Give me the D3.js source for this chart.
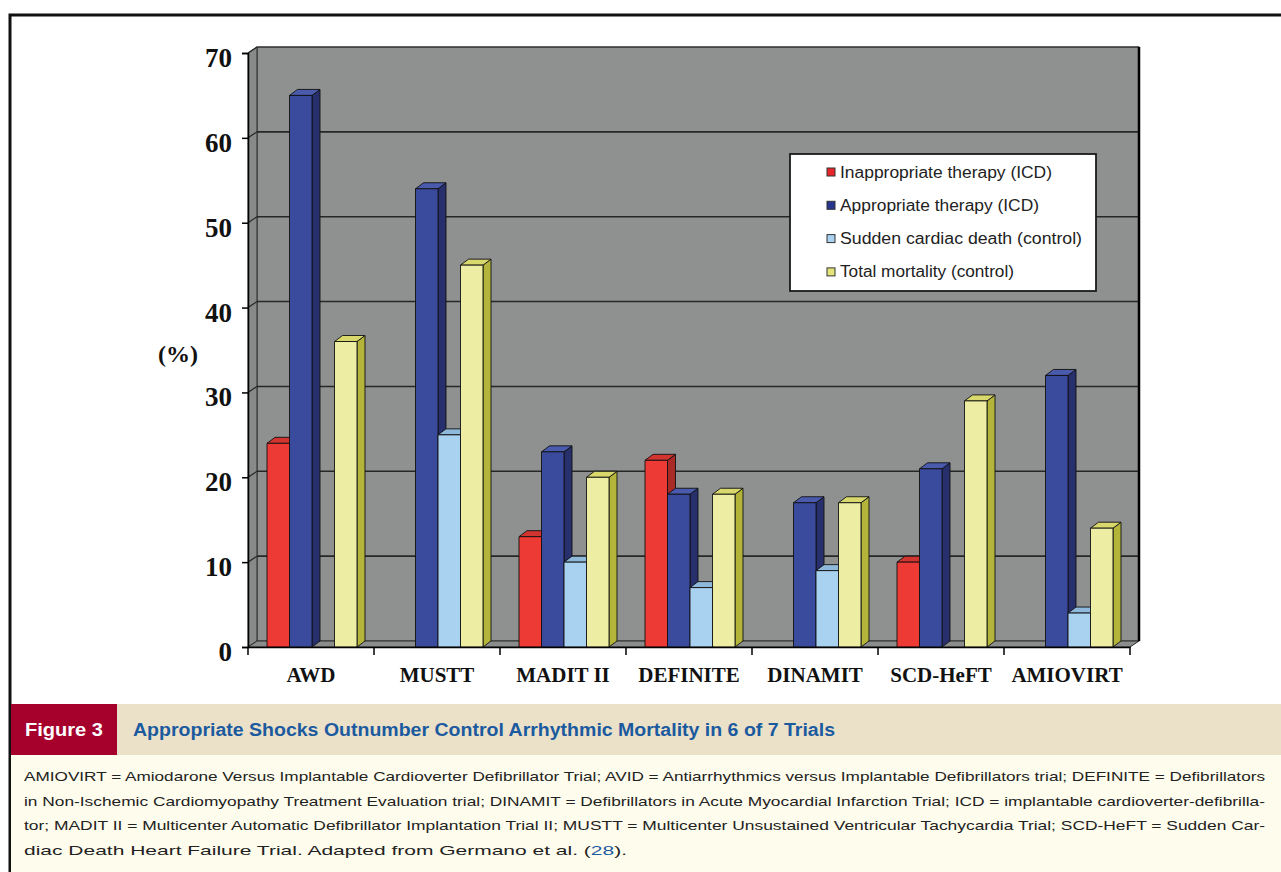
<!DOCTYPE html>
<html>
<head>
<meta charset="utf-8">
<script src="https://cdn.jsdelivr.net/npm/d3@7/dist/d3.min.js"></script>
<style>
  html, body { margin: 0; padding: 0; background: #ffffff; }
  svg { display: block; }
</style>
</head>
<body>
<svg id="fig" width="1281" height="872"></svg>
<script>
// ---- data -------------------------------------------------------------
const categories = ["AWD", "MUSTT", "MADIT II", "DEFINITE", "DINAMIT", "SCD-HeFT", "AMIOVIRT"];
const seriesNames = [
  "Inappropriate therapy (ICD)",
  "Appropriate therapy (ICD)",
  "Sudden cardiac death  (control)",
  "Total mortality (control)"
];
// null = not reported for that trial
const inappropriateTherapy = [24, null, 13, 22, null, 10, null];
const appropriateTherapy   = [65, 54, 23, 18, 17, 21, 32];
const suddenCardiacDeath   = [null, 25, 10, 7, 9, null, 4];
const totalMortality       = [36, 45, 20, 18, 17, 29, 14];
const yTicks = [0, 10, 20, 30, 40, 50, 60, 70];

const seriesValues = [inappropriateTherapy, appropriateTherapy, suddenCardiacDeath, totalMortality];

// face colours per series: front, top, side, legend key
const palette = [
  { front: "#ee3a35", top: "#d2352f", side: "#a92a26", key: "#e8262a" },
  { front: "#3a4a9d", top: "#4a5aad", side: "#27306c", key: "#27358f" },
  { front: "#a9d1f0", top: "#8fb9da", side: "#7ba2c4", key: "#a9d1f0" },
  { front: "#ededa3", top: "#d8d86c", side: "#b4b43a", key: "#e4e47a" }
];
// rendered widths of the legend labels
const legendWidths = [212, 199, 242, 174];

const svg = d3.select("#fig");

// ---- page frame -------------------------------------------------------
svg.append("rect").attr("x", 0).attr("y", 0).attr("width", 1281).attr("height", 872).attr("fill", "#ffffff");
svg.append("path")
  .attr("d", "M10,900 L10,15 L1290,15")
  .attr("fill", "none").attr("stroke", "#111").attr("stroke-width", 3);

// ---- 3D chart geometry --------------------------------------------------
const depth = { dx: 9, dy: -6 };      // wall depth offset
const barDepth = { dx: 8, dy: -6 };   // bar depth offset
const y = d3.scaleLinear().domain([0, 70]).range([647, 53]);
const x = d3.scaleBand().domain(categories).range([248, 1130]);
const xs = d3.scaleBand().domain(d3.range(seriesNames.length)).range([19, 19 + 90]);

const x0 = x.range()[0], x1 = x.range()[1];
const yTop = y(70), yBase = y(0);
const wallFill = "#8e9190";

const chart = svg.append("g");

// back wall
chart.append("rect")
  .attr("x", x0 + depth.dx).attr("y", yTop + depth.dy)
  .attr("width", x1 - x0).attr("height", yBase - yTop)
  .attr("fill", wallFill).attr("stroke", "#3a3d3c").attr("stroke-width", 1);

// left side wall
chart.append("path")
  .attr("d", `M${x0},${yBase} L${x0},${yTop} L${x0 + depth.dx},${yTop + depth.dy} L${x0 + depth.dx},${yBase + depth.dy} Z`)
  .attr("fill", "#878a89").attr("stroke", "#2a2a2a").attr("stroke-width", 1);

// floor
chart.append("path")
  .attr("d", `M${x0},${yBase} L${x1},${yBase} L${x1 + depth.dx},${yBase + depth.dy} L${x0 + depth.dx},${yBase + depth.dy} Z`)
  .attr("fill", "#8a8d8c").attr("stroke", "#2a2a2a").attr("stroke-width", 1);

// gridlines on back wall and side wall
const grid = chart.append("g");
yTicks.filter(t => t > 0).forEach(t => {
  grid.append("line")
    .attr("x1", x0 + depth.dx).attr("x2", x1 + depth.dx)
    .attr("y1", y(t) + depth.dy).attr("y2", y(t) + depth.dy)
    .attr("stroke", "#262827").attr("stroke-width", t === 70 ? 1 : 1.6);
  grid.append("line")
    .attr("x1", x0).attr("x2", x0 + depth.dx)
    .attr("y1", y(t)).attr("y2", y(t) + depth.dy)
    .attr("stroke", "#262827").attr("stroke-width", 1.2);
});

// right edge of the back wall
chart.append("line")
  .attr("x1", x1 + depth.dx).attr("x2", x1 + depth.dx)
  .attr("y1", yTop + depth.dy).attr("y2", yBase + depth.dy)
  .attr("stroke", "#000").attr("stroke-width", 2.5);

// ---- bars -------------------------------------------------------------
const bars = chart.append("g");
categories.forEach((cat, ci) => {
  seriesValues.forEach((vals, si) => {
    const v = vals[ci];
    if (v == null) return;
    const bx = x(cat) + xs(si);
    const bw = xs.bandwidth();
    const by = y(v);
    const c = palette[si];
    const g = bars.append("g").attr("stroke", "#111").attr("stroke-width", 0.9).attr("stroke-linejoin", "round");
    // side face
    g.append("path")
      .attr("d", `M${bx + bw},${yBase} L${bx + bw},${by} L${bx + bw + barDepth.dx},${by + barDepth.dy} L${bx + bw + barDepth.dx},${yBase + barDepth.dy} Z`)
      .attr("fill", c.side);
    // top face
    g.append("path")
      .attr("d", `M${bx},${by} L${bx + barDepth.dx},${by + barDepth.dy} L${bx + bw + barDepth.dx},${by + barDepth.dy} L${bx + bw},${by} Z`)
      .attr("fill", c.top);
    // front face
    g.append("rect")
      .attr("x", bx).attr("y", by).attr("width", bw).attr("height", yBase - by)
      .attr("fill", c.front);
  });
});

// ---- axes -------------------------------------------------------------
const yAxis = d3.axisLeft(y).tickValues(yTicks).tickSize(6).tickPadding(10).tickFormat(d3.format("d"));
const yG = svg.append("g").attr("transform", `translate(${x0},0)`).call(yAxis);
yG.select(".domain").attr("stroke", "#000").attr("stroke-width", 1.5);
yG.selectAll(".tick line").attr("stroke", "#000").attr("stroke-width", 1.5);
yG.selectAll(".tick text")
  .attr("font-family", "'Liberation Serif', 'Times New Roman', serif")
  .attr("font-weight", "bold").attr("font-size", 27).attr("fill", "#111")
  .attr("dy", "0.5em").attr("x", -16);

const xAxis = d3.axisBottom(x).tickSize(0).tickPadding(20);
const xG = svg.append("g").attr("transform", `translate(0,${yBase})`).call(xAxis);
xG.select(".domain").attr("stroke", "#000").attr("stroke-width", 1.5);
xG.selectAll(".tick text")
  .attr("font-family", "'Liberation Serif', 'Times New Roman', serif")
  .attr("font-weight", "bold").attr("font-size", 21).attr("fill", "#111");
// category separator ticks
const sepG = svg.append("g");
d3.range(categories.length + 1).forEach(i => {
  const sx = i < categories.length ? x(categories[i]) : x1;
  sepG.append("line").attr("x1", sx).attr("x2", sx).attr("y1", yBase).attr("y2", yBase + 8)
    .attr("stroke", "#000").attr("stroke-width", 1.5);
});

// y axis title
svg.append("text")
  .attr("x", 178).attr("y", 362).attr("text-anchor", "middle")
  .attr("font-family", "'Liberation Serif', 'Times New Roman', serif")
  .attr("font-weight", "bold").attr("font-size", 24).attr("fill", "#111")
  .text("(%)");

// ---- legend -----------------------------------------------------------
const legend = svg.append("g");
legend.append("rect")
  .attr("x", 790).attr("y", 154).attr("width", 306).attr("height", 137)
  .attr("fill", "#ffffff").attr("stroke", "#1a1a1a").attr("stroke-width", 1.8);
seriesNames.forEach((name, i) => {
  const ly = 172 + i * 33.3;
  legend.append("rect")
    .attr("x", 827).attr("y", ly - 4).attr("width", 8).attr("height", 8)
    .attr("fill", palette[i].key).attr("stroke", "#333").attr("stroke-width", 1);
  legend.append("text")
    .attr("x", 840).attr("y", ly + 5.5)
    .attr("font-family", "'Liberation Sans', Arial, sans-serif")
    .attr("font-size", 16).attr("fill", "#222")
    .attr("textLength", legendWidths[i]).attr("lengthAdjust", "spacingAndGlyphs")
    .text(name);
});

// ---- figure caption ---------------------------------------------------
svg.append("rect").attr("x", 11).attr("y", 704).attr("width", 1275).attr("height", 51).attr("fill", "#ebe1c9");
svg.append("rect").attr("x", 11).attr("y", 704).attr("width", 106).attr("height", 51).attr("fill", "#a6002d");
svg.append("rect").attr("x", 11).attr("y", 755).attr("width", 1275).attr("height", 120).attr("fill", "#fefcec");

svg.append("text")
  .attr("x", 25).attr("y", 736)
  .attr("font-family", "'Liberation Sans Narrow', 'Liberation Sans', Arial, sans-serif")
  .attr("font-weight", "bold").attr("font-size", 18).attr("fill", "#ffffff")
  .attr("textLength", 78).attr("lengthAdjust", "spacingAndGlyphs")
  .text("Figure 3");

svg.append("text")
  .attr("x", 133).attr("y", 736)
  .attr("font-family", "'Liberation Sans Narrow', 'Liberation Sans', Arial, sans-serif")
  .attr("font-weight", "bold").attr("font-size", 18).attr("fill", "#1b5a9f")
  .attr("textLength", 702).attr("lengthAdjust", "spacingAndGlyphs")
  .text("Appropriate Shocks Outnumber Control Arrhythmic Mortality in 6 of 7 Trials");

const captionLines = [
  "AMIOVIRT = Amiodarone Versus Implantable Cardioverter Defibrillator Trial; AVID = Antiarrhythmics versus Implantable Defibrillators trial; DEFINITE = Defibrillators",
  "in Non-Ischemic Cardiomyopathy Treatment Evaluation trial; DINAMIT = Defibrillators in Acute Myocardial Infarction Trial; ICD = implantable cardioverter-defibrilla-",
  "tor; MADIT II = Multicenter Automatic Defibrillator Implantation Trial II; MUSTT = Multicenter Unsustained Ventricular Tachycardia Trial; SCD-HeFT = Sudden Car-"
];
const captionFont = "'Liberation Sans Narrow', 'Liberation Sans', Arial, sans-serif";
captionLines.forEach((line, i) => {
  svg.append("text")
    .attr("x", 24).attr("y", 781 + i * 24.5)
    .attr("font-family", captionFont).attr("font-size", 13.5).attr("fill", "#222")
    .attr("textLength", 1241).attr("lengthAdjust", "spacingAndGlyphs")
    .text(line);
});
const last = svg.append("text")
  .attr("x", 24).attr("y", 781 + 3 * 24.5)
  .attr("font-family", captionFont).attr("font-size", 13.5).attr("fill", "#222")
  .attr("textLength", 603).attr("lengthAdjust", "spacingAndGlyphs");
last.append("tspan").text("diac Death Heart Failure Trial. Adapted from Germano et al. (");
last.append("tspan").attr("fill", "#1b5a9f").text("28");
last.append("tspan").text(").");
</script>
</body>
</html>
